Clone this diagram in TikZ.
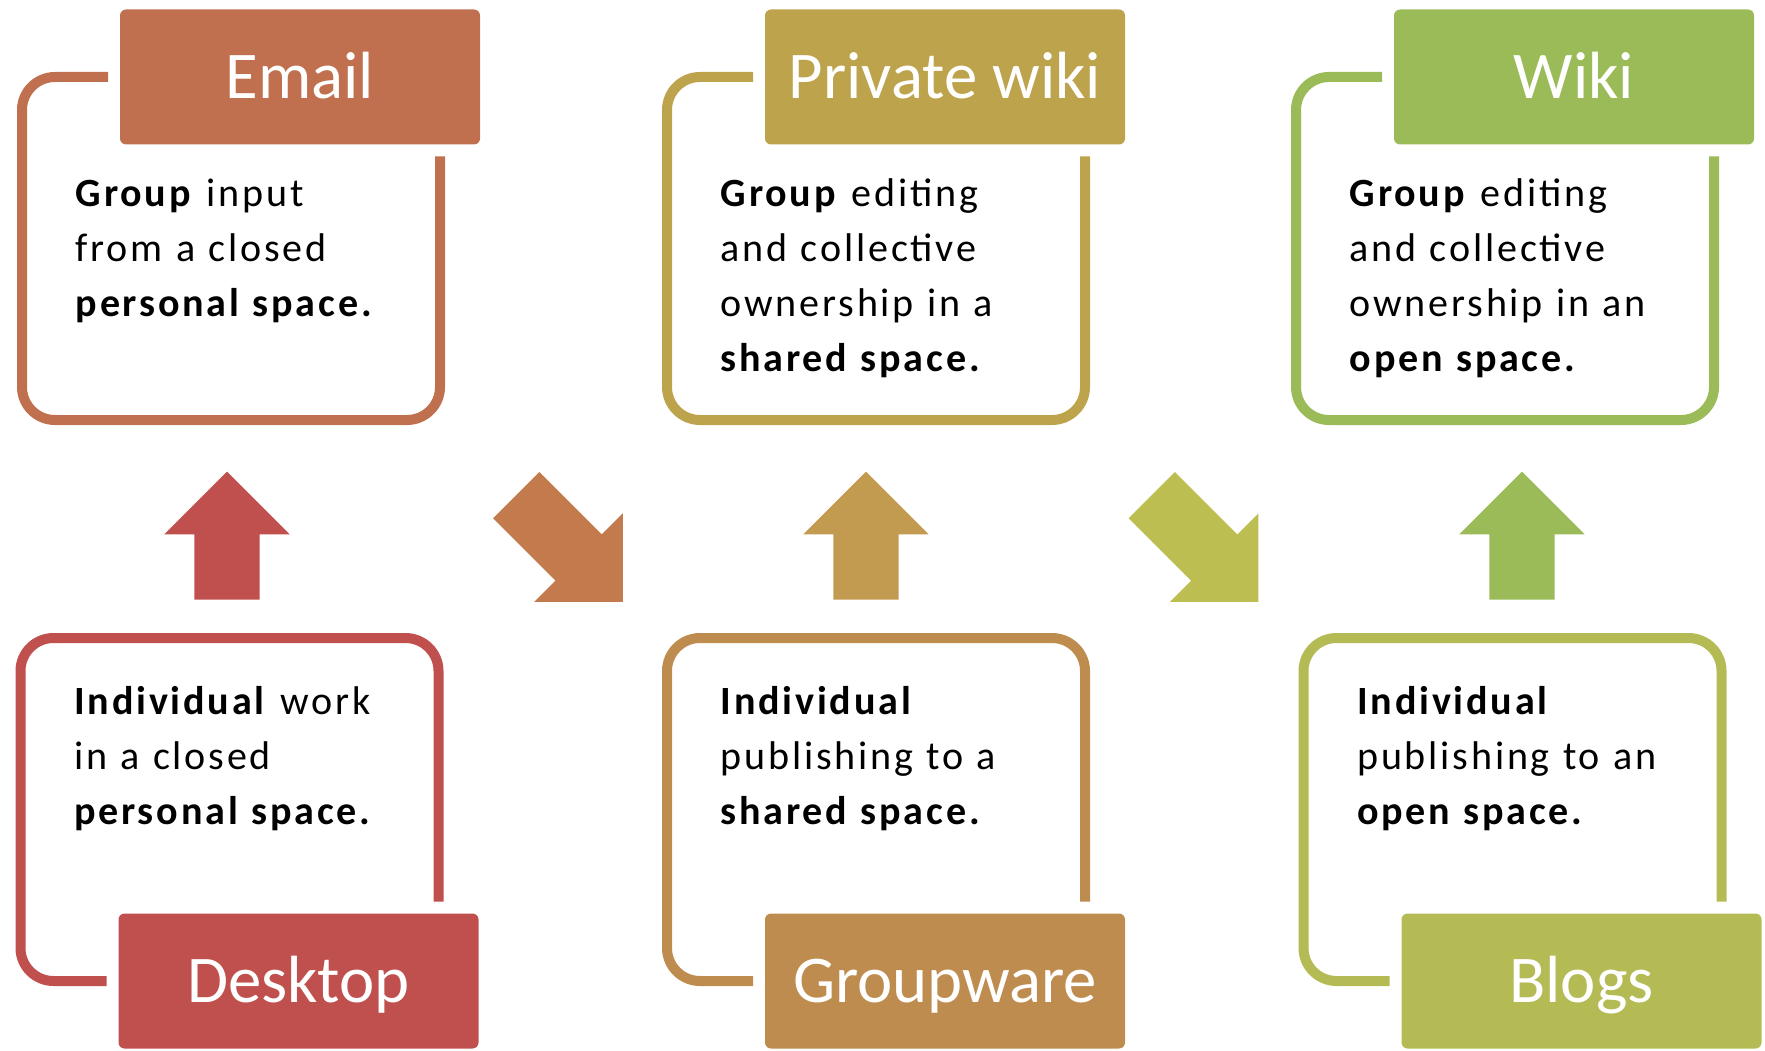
\documentclass[tikz,border=0pt]{standalone}
\usepackage{fontspec}
\setmainfont{Carlito}
\newfontfamily\cuerpo{Carlito}[LetterSpace=7]
\usetikzlibrary{positioning,calc,shapes.arrows}

\definecolor{cdesk}{HTML}{C0504D}
\definecolor{cemail}{HTML}{C0704F}
\definecolor{cgroup}{HTML}{BF8C4F}
\definecolor{cpriv}{HTML}{BEA34D}
\definecolor{cblog}{HTML}{B4BB55}
\definecolor{cwiki}{HTML}{9BBB59}
\definecolor{cflechaA}{HTML}{C37A4C}
\definecolor{cflechaB}{HTML}{C29A50}
\definecolor{cflechaC}{HTML}{BDBE52}

\begin{document}
\begin{tikzpicture}[
        marco/.style={rectangle, inner sep=0pt, outer sep=0pt, minimum width=4.18cm, minimum height=3.43cm},
        pestana/.style={rectangle, rounded corners=0.6mm, inner sep=0pt, outer sep=0pt, minimum width=3.6cm, minimum height=1.35cm, text=white, font=\fontsize{19}{23}\selectfont, text height=0.43cm, text depth=0pt},
        texto/.style={inner sep=0pt, align=left, text width=3.7cm, font=\cuerpo\fontsize{11.4}{15.65}\selectfont, execute at begin node=\strut},
        borde/.style={line width=1mm, rounded corners=3.3mm},
        flecha/.style={single arrow, single arrow head extend=0.3cm, inner sep=0.32cm, minimum height=1.28cm}
    ]
        \useasboundingbox (0,0) rectangle (17.65,10.5);

        % Marcos
        \node[marco] (memail) at (2.31,8.015) {};
        \node[marco] (mpriv) at (8.76,8.015) {};
        \node[marco] (mwiki) at (15.05,8.015) {};
        \node[marco] (mdesk) at (2.295,2.405) {};
        \node[marco] (mgroup) at (8.76,2.405) {};
        \node[marco] (mblog) at (15.125,2.405) {};

        % Pestañas
        \node[pestana, fill=cemail, right=0.98cm of memail.north west] (email) {Email};
        \node[pestana, fill=cpriv, right=0.98cm of mpriv.north west] (priv) {Private wiki};
        \node[pestana, fill=cwiki, right=0.98cm of mwiki.north west] (wiki) {Wiki};
        \node[pestana, fill=cdesk, right=0.98cm of mdesk.south west] (desk) {Desktop};
        \node[pestana, fill=cgroup, right=0.98cm of mgroup.south west] (group) {Groupware};
        \node[pestana, fill=cblog, right=0.98cm of mblog.south west] (blog) {Blogs};

        % Textos
        \node[texto, below right=0.90cm and 0.53cm of memail.north west] (temail) {\textbf{Group} input\\from a closed\\\textbf{personal space.}};
        \node[texto, below right=0.90cm and 0.53cm of mpriv.north west] (tpriv) {\textbf{Group} editing\\and collective\\ownership in a\\\textbf{shared space.}};
        \node[texto, below right=0.90cm and 0.53cm of mwiki.north west] (twiki) {\textbf{Group} editing\\and collective\\ownership in an\\\textbf{open space.}};
        \node[texto, below right=0.375cm and 0.53cm of mdesk.north west] (tdesk) {\textbf{Individual} work\\in a closed\\\textbf{personal space.}};
        \node[texto, below right=0.375cm and 0.53cm of mgroup.north west] (tgroup) {\textbf{Individual}\\publishing to a\\\textbf{shared space.}};
        \node[texto, below right=0.375cm and 0.53cm of mblog.north west] (tblog) {\textbf{Individual}\\publishing to an\\\textbf{open space.}};

        % Bordes
        \draw[borde, cemail] ([xshift=-1.2mm]email.west) -- (memail.north west) -- (memail.south west) -- (memail.south east) -- ($(memail.east |- email.south)+(0,-0.12)$);
        \draw[borde, cpriv] ([xshift=-1.2mm]priv.west) -- (mpriv.north west) -- (mpriv.south west) -- (mpriv.south east) -- ($(mpriv.east |- priv.south)+(0,-0.12)$);
        \draw[borde, cwiki] ([xshift=-1.2mm]wiki.west) -- (mwiki.north west) -- (mwiki.south west) -- (mwiki.south east) -- ($(mwiki.east |- wiki.south)+(0,-0.12)$);
        \draw[borde, cdesk] ($(mdesk.east |- desk.north)+(0,0.12)$) -- (mdesk.north east) -- (mdesk.north west) -- (mdesk.south west) -- ([xshift=-1.2mm]desk.west);
        \draw[borde, cgroup] ($(mgroup.east |- group.north)+(0,0.12)$) -- (mgroup.north east) -- (mgroup.north west) -- (mgroup.south west) -- ([xshift=-1.2mm]group.west);
        \draw[borde, cblog] ($(mblog.east |- blog.north)+(0,0.12)$) -- (mblog.north east) -- (mblog.north west) -- (mblog.south west) -- ([xshift=-1.2mm]blog.west);

        % Flechas
        \node[flecha, fill=cdesk, rotate=90] (f1) at (2.27,4.98) {};
        \node[flecha, fill=cflechaA, rotate=-45, minimum height=1.51cm] (f2) at (5.58,5.13) {};
        \node[flecha, fill=cflechaB, rotate=90] (f3) at (8.66,4.98) {};
        \node[flecha, fill=cflechaC, rotate=-45, minimum height=1.51cm] (f4) at (11.935,5.13) {};
        \node[flecha, fill=cwiki, rotate=90] (f5) at (15.22,4.98) {};
\end{tikzpicture}
\end{document}
